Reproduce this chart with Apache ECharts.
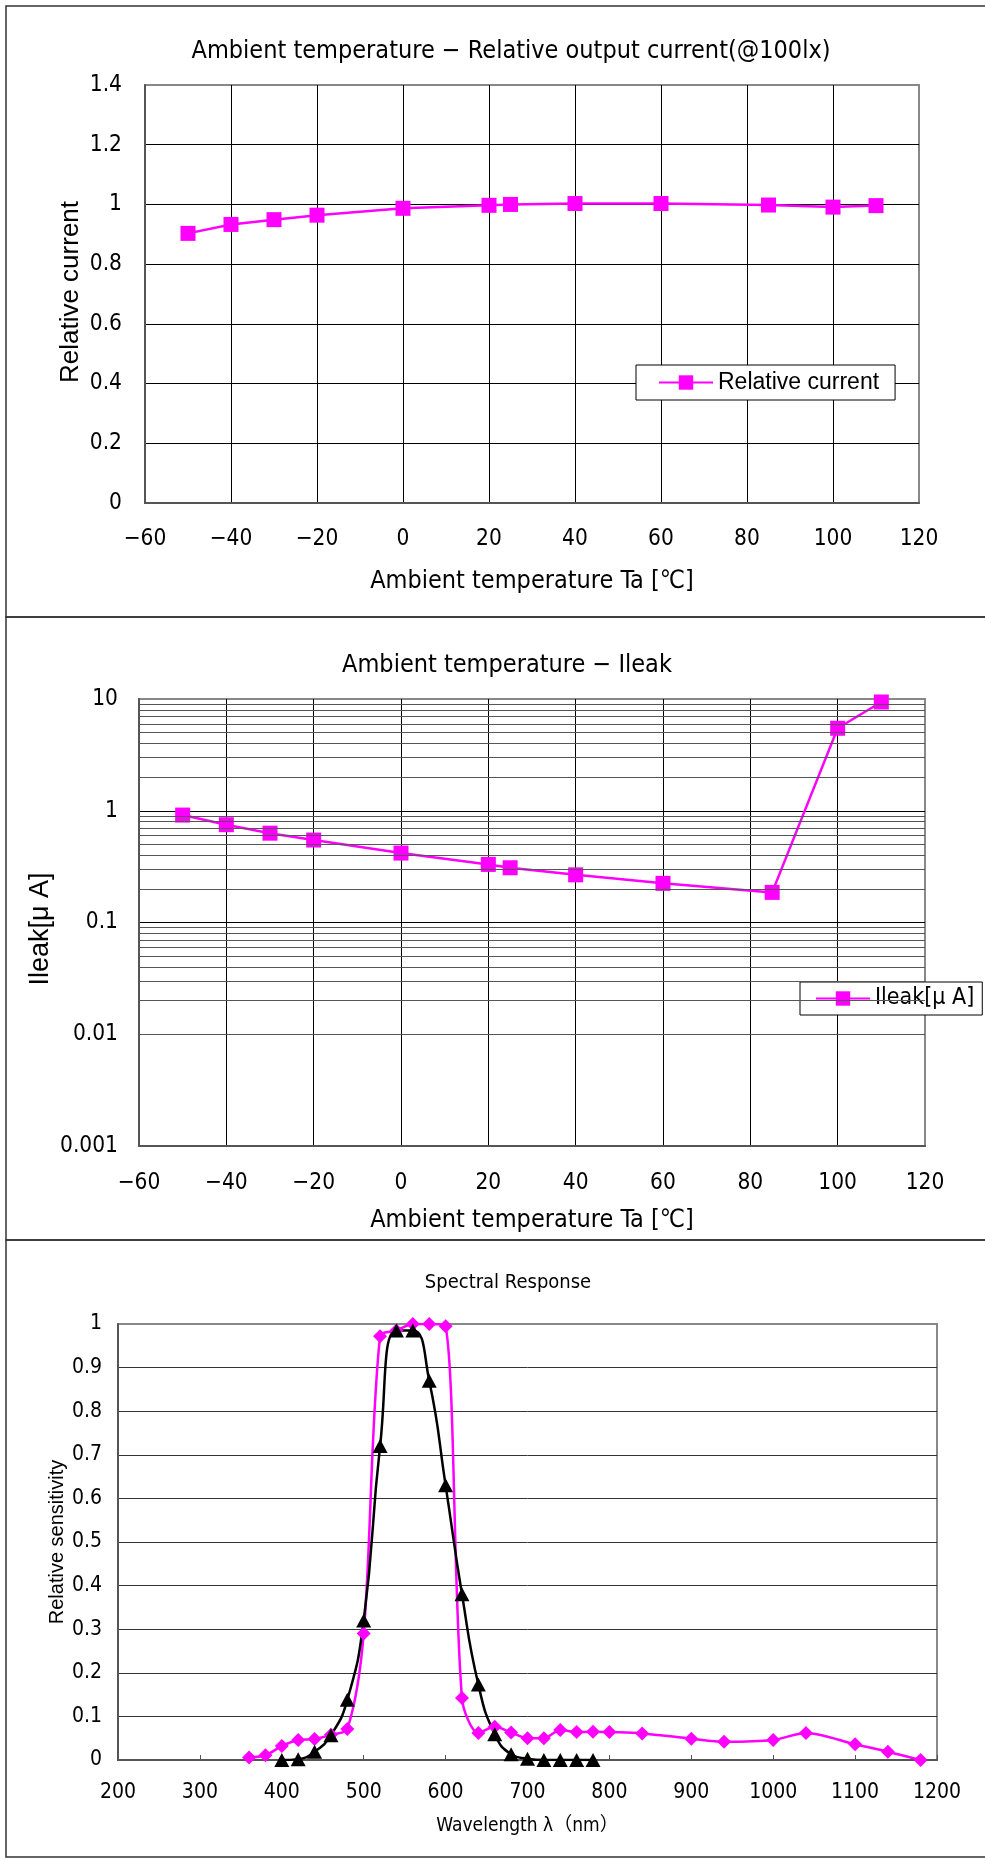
<!DOCTYPE html>
<html>
<head>
<meta charset="utf-8">
<title>Sensor characteristics</title>
<script src="https://cdn.jsdelivr.net/npm/echarts@6.0.0/dist/echarts.min.js"></script>
<style>
html, body { margin: 0; padding: 0; background: #fff; }
#chart { width: 985px; height: 1859px; }
</style>
</head>
<body>
<div id="chart"></div>
<script>
// temperature charts
var tempC = [-50, -40, -30, -20, 0, 20, 25, 40, 60, 85, 100, 110];
var relCurrent = [0.903, 0.933, 0.949, 0.964, 0.987, 0.997, 1.0, 1.003, 1.003, 0.998, 0.991, 0.996];
var leakUA = [0.915, 0.75, 0.63, 0.547, 0.418, 0.331, 0.309, 0.267, 0.224, 0.186, 5.47, 9.4];

// log grid levels between the decades
var leakMinorLevels = [0.002, 0.003, 0.004, 0.005, 0.006, 0.007, 0.008, 0.009,
	0.02, 0.03, 0.04, 0.05, 0.06, 0.07, 0.08, 0.09,
	0.2, 0.3, 0.4, 0.5, 0.6, 0.7, 0.8, 0.9,
	2, 3, 4, 5, 6, 7, 8, 9];

// spectral response
var waveA = [360, 380, 400, 420, 440, 460, 480, 500, 520, 540, 560, 580, 600, 620, 640, 660, 680, 700, 720, 740, 760, 780, 800, 840, 900, 940, 1000, 1040, 1100, 1140, 1180];
var sensA = [0.006, 0.011, 0.032, 0.046, 0.048, 0.058, 0.071, 0.29, 0.972, 0.985, 1.0, 1.0, 0.995, 0.142, 0.062, 0.076, 0.063, 0.05, 0.05, 0.069, 0.064, 0.065, 0.064, 0.061, 0.049, 0.042, 0.046, 0.062, 0.036, 0.019, 0.0];
var waveB = [400, 420, 440, 460, 480, 500, 520, 540, 560, 580, 600, 620, 640, 660, 680, 700, 720, 740, 760, 780];
var sensB = [0.0, 0.002, 0.019, 0.057, 0.138, 0.32, 0.72, 0.985, 0.985, 0.87, 0.63, 0.38, 0.173, 0.059, 0.013, 0.003, 0.0, 0.0, 0.0, 0.0];

var NARROW = "'Liberation Sans Narrow', 'DejaVu Sans Condensed', 'Noto Sans CJK JP', sans-serif";
var SANS = "'Liberation Sans', Arial, sans-serif";
var PINK = '#FF00FF';

function pairs(xs, ys) {
	return xs.map(function(x, i) { return [x, ys[i]]; });
}
function minusSign(v) {
	return String(v).replace('-', '\u2212');
}
function plain(v) {
	return String(v);
}
function label(text, x, y, size, family, rotate) {
	return {
		type: 'text', silent: true, x: x, y: y, rotation: rotate ? Math.PI / 2 : 0,
		style: { text: text, fontFamily: family, fontSize: size, fill: '#000', align: 'center', verticalAlign: 'middle' }
	};
}
function panel(y, h) {
	return { type: 'rect', silent: true, shape: { x: 6, y: y, width: 990, height: h }, style: { fill: 'none', stroke: '#333', lineWidth: 1.5 } };
}

var myChart = echarts.init(document.getElementById('chart'));

var option = {
	animation: false,
	textStyle: { fontFamily: NARROW, color: '#000' },
	graphic: [
		panel(6, 611),
		panel(617, 623),
		panel(1240, 617),
		label('Ambient temperature \u2212 Relative output current(@100lx)', 511, 51, 25, NARROW),
		label('Ambient temperature \u2212 Ileak', 507, 665, 25, NARROW),
		label('Spectral Response', 508, 1283, 20, NARROW),
		label('Relative current', 71, 292, 26, SANS, true),
		label('Ileak[\u03bc A]', 41, 929, 27, SANS, true),
		label('Relative sensitivity', 57, 1542, 20, SANS, true)
	],
	grid: [
		{ left: 145, top: 85, width: 774, height: 418, show: true, borderColor: '#888', borderWidth: 2, backgroundColor: '#fff' },
		{ left: 139, top: 699, width: 786, height: 447, show: true, borderColor: '#888', borderWidth: 2, backgroundColor: '#fff' },
		{ left: 118, top: 1324, width: 819, height: 436, show: true, borderColor: '#888', borderWidth: 2, backgroundColor: '#fff' }
	],
	xAxis: [
		{
			gridIndex: 0, type: 'value', min: -60, max: 120, interval: 20,
			name: 'Ambient temperature Ta [\u2103]', nameLocation: 'middle', nameGap: 66,
			nameTextStyle: { fontFamily: NARROW, fontSize: 25, color: '#000' },
			axisLine: { onZero: false, lineStyle: { color: '#555', width: 2 } },
			axisTick: { show: false },
			axisLabel: { fontFamily: NARROW, fontSize: 22.5, color: '#000', margin: 25, formatter: minusSign },
			splitLine: { show: true, showMinLine: false, showMaxLine: false, lineStyle: { color: '#000', width: 1 } }
		},
		{
			gridIndex: 1, type: 'value', min: -60, max: 120, interval: 20,
			name: 'Ambient temperature Ta [\u2103]', nameLocation: 'middle', nameGap: 62,
			nameTextStyle: { fontFamily: NARROW, fontSize: 25, color: '#000' },
			axisLine: { onZero: false, lineStyle: { color: '#555', width: 2 } },
			axisTick: { show: false },
			axisLabel: { fontFamily: NARROW, fontSize: 22.5, color: '#000', margin: 26, formatter: minusSign },
			splitLine: { show: true, showMinLine: false, showMaxLine: false, lineStyle: { color: '#000', width: 1 } }
		},
		{
			gridIndex: 2, type: 'value', min: 200, max: 1200, interval: 100,
			name: 'Wavelength \u03bb\uff08nm\uff09', nameLocation: 'middle', nameGap: 57,
			nameTextStyle: { fontFamily: NARROW, fontSize: 19, color: '#000' },
			axisLine: { onZero: false, lineStyle: { color: '#555', width: 2 } },
			axisTick: { show: true, inside: true, length: 5, lineStyle: { color: '#555' } },
			axisLabel: { fontFamily: NARROW, fontSize: 21, color: '#000', margin: 22, formatter: plain },
			splitLine: { show: false }
		}
	],
	yAxis: [
		{
			gridIndex: 0, type: 'value', min: 0, max: 1.4, interval: 0.2,
			axisLine: { show: true, onZero: false, lineStyle: { color: '#555', width: 2 } },
			axisTick: { show: false },
			axisLabel: { fontFamily: NARROW, fontSize: 22.5, color: '#000', margin: 23 },
			splitLine: { show: true, showMinLine: false, showMaxLine: false, lineStyle: { color: '#000', width: 1 } }
		},
		{
			gridIndex: 1, type: 'log', logBase: 10, min: 0.001, max: 10,
			axisLine: { show: true, onZero: false, lineStyle: { color: '#555', width: 2 } },
			axisTick: { show: false },
			axisLabel: { fontFamily: NARROW, fontSize: 22.5, color: '#000', margin: 21 },
			splitLine: { show: true, showMinLine: false, showMaxLine: false, lineStyle: { color: '#000', width: 1 } }
		},
		{
			gridIndex: 2, type: 'value', min: 0, max: 1, interval: 0.1,
			axisLine: { show: true, onZero: false, lineStyle: { color: '#555', width: 2 } },
			axisTick: { show: false },
			axisLabel: { fontFamily: NARROW, fontSize: 21, color: '#000', margin: 16 },
			splitLine: { show: true, showMinLine: false, showMaxLine: false, lineStyle: { color: '#333', width: 1 } }
		}
	],
	legend: [
		{
			data: ['Relative current'], left: 636, top: 365, selectedMode: false,
			itemWidth: 54, itemHeight: 18, padding: [6, 16, 6, 22],
			backgroundColor: '#fff', borderColor: '#000', borderWidth: 1, borderRadius: 0,
			textStyle: { fontFamily: SANS, fontSize: 23, color: '#000' }
		},
		{
			data: ['Ileak[\u03bc A]'], left: 800, top: 982, selectedMode: false,
			itemWidth: 54, itemHeight: 18, padding: [5, 8, 5, 15],
			backgroundColor: '#fff', borderColor: '#000', borderWidth: 1, borderRadius: 0,
			textStyle: { fontFamily: NARROW, fontSize: 23, color: '#000' }
		}
	],
	series: [
		{
			name: 'Relative current', type: 'line', xAxisIndex: 0, yAxisIndex: 0,
			data: pairs(tempC, relCurrent),
			symbol: 'rect', symbolSize: 15,
			lineStyle: { color: PINK, width: 2.5 },
			itemStyle: { color: PINK }
		},
		{
			name: 'leak grid', type: 'line', xAxisIndex: 1, yAxisIndex: 1, data: [], silent: true, z: 1,
			markLine: {
				silent: true, symbol: ['none', 'none'], label: { show: false }, animation: false,
				lineStyle: { color: '#555', width: 1, type: 'solid' },
				emphasis: { disabled: true },
				data: leakMinorLevels.map(function(v) { return { yAxis: v }; })
			}
		},
		{
			name: 'Ileak[\u03bc A]', type: 'line', xAxisIndex: 1, yAxisIndex: 1,
			data: pairs(tempC, leakUA),
			symbol: 'rect', symbolSize: 15,
			lineStyle: { color: PINK, width: 2.5 },
			itemStyle: { color: PINK }
		},
		{
			name: 'Spectral A', type: 'line', xAxisIndex: 2, yAxisIndex: 2,
			data: pairs(waveA, sensA),
			smooth: 0.3,
			symbol: 'diamond', symbolSize: [14, 14],
			lineStyle: { color: PINK, width: 2.5 },
			itemStyle: { color: PINK }
		},
		{
			name: 'Spectral B', type: 'line', xAxisIndex: 2, yAxisIndex: 2,
			data: pairs(waveB, sensB),
			smooth: 0.5,
			symbol: 'triangle', symbolSize: [15, 14],
			lineStyle: { color: '#000', width: 2.5 },
			itemStyle: { color: '#000' }
		}
	]
};

myChart.setOption(option);
</script>
</body>
</html>
